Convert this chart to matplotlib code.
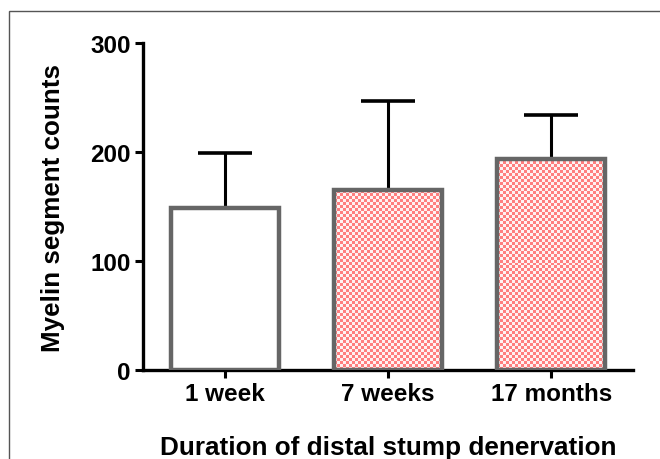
import numpy as np
import matplotlib
matplotlib.use('Agg')
import matplotlib.pyplot as plt
from matplotlib.patches import Rectangle

# data
groups = ['1 week', '7 weeks', '17 months']
counts = [149, 165, 194]
errors = [50, 82, 40]
y_ticks = [0, 100, 200, 300]

plt.rcParams['font.family'] = ['Liberation Sans', 'DejaVu Sans']
plt.rcParams['font.weight'] = 'bold'

fig = plt.figure(figsize=(6.6, 4.6), dpi=100, facecolor='white')
ax = fig.add_axes([143 / 660, 1 - 371 / 460, (633 - 143) / 660, (371 - 44) / 460])

x = np.arange(len(groups))
width = 0.66
checked = [False, True, True]

fills = ax.bar(x, counts, width=width, color='white', linewidth=0, zorder=2)
ax.bar(x, counts, width=width, facecolor='none', edgecolor='#666666', linewidth=3.2, zorder=4)

ax.errorbar(x, np.array(counts), yerr=[np.zeros(len(errors)), errors], fmt='none',
            ecolor='black', elinewidth=2.2, capsize=19.5, capthick=2.6, zorder=1)

ax.set_xlim(-0.5, 2.5)
ax.set_ylim(0, 300)
ax.set_yticks(y_ticks)
ax.set_xticks(x)
ax.set_xticklabels(groups)
ax.tick_params(axis='both', direction='out', length=6, width=2.2, labelsize=17.5, pad=3)
for side in ['top', 'right']:
    ax.spines[side].set_visible(False)
for side in ['left', 'bottom']:
    ax.spines[side].set_linewidth(2.4)
ax.spines['left'].set_bounds(0, 300)

ax.set_ylabel('Myelin segment counts', fontsize=18.7, fontweight='bold', labelpad=18)
ax.set_xlabel('Duration of distal stump denervation', fontsize=18.8, fontweight='bold', labelpad=21)

# pink/white checkerboard texture, clipped to each hatched bar
fig.canvas.draw()
for b, chk in zip(fills, checked):
    if not chk:
        continue
    bb = b.get_window_extent()
    nx = int(bb.width / 3) + 1
    ny = int(bb.height / 3) + 1
    board = (np.add.outer(np.arange(ny), np.arange(nx)) % 2).astype(float)
    rgb = np.where(board[..., None] > 0, np.array([1.0, 0.5, 0.5]), np.array([1.0, 0.95, 0.95]))
    x0, y0 = b.get_x(), b.get_y()
    im = ax.imshow(rgb, extent=(x0, x0 + b.get_width(), y0, y0 + b.get_height()),
                   interpolation='nearest', aspect='auto', zorder=3)
    im.set_clip_path(b)

ax.set_xlim(-0.5, 2.5)
ax.set_ylim(0, 300)

# thin frame around the picture
fig.patches.append(Rectangle((9 / 660, -0.1), 1.2, 1 - 12 / 460 + 0.1, transform=fig.transFigure,
                             fill=False, edgecolor='#555555', linewidth=1.0))

fig.savefig('out.png', dpi=100)
